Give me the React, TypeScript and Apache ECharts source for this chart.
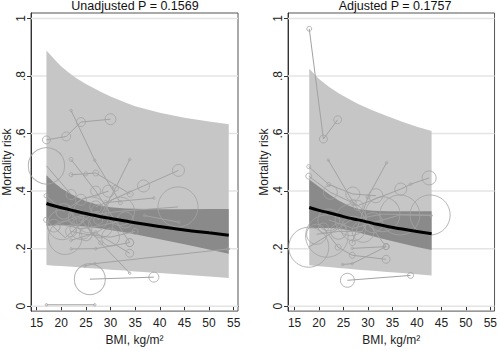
import React, { useEffect, useRef } from "react";
import * as echarts from "echarts";

// ---------- data ----------
const titles = ["Unadjusted P = 0.1569", "Adjusted P = 0.1757"];
const xTicks = [15, 20, 25, 30, 35, 40, 45, 50, 55];
const yTicks = [0, 0.2, 0.4, 0.6, 0.8, 1];
const yTickLabels = ["0", ".2", ".4", ".6", ".8", "1"];
const xName = "BMI, kg/m\u00B2";
const yName = "Mortality risk";

// Unadjusted panel: bands and fitted curve
const leftX = [17, 18.5, 20, 21.5, 23, 25, 28, 30, 33, 35, 40, 45, 50, 54];
const leftPiUpper = [0.889, 0.86, 0.833, 0.812, 0.793, 0.772, 0.745, 0.729, 0.708, 0.695, 0.672, 0.655, 0.642, 0.632];
const leftPiLower = [0.143, 0.141, 0.14, 0.138, 0.136, 0.133, 0.13, 0.127, 0.124, 0.121, 0.115, 0.109, 0.103, 0.098];
const leftCiUpper = [0.455, 0.43, 0.41, 0.394, 0.38, 0.365, 0.35, 0.344, 0.34, 0.339, 0.337, 0.337, 0.338, 0.338];
const leftCiLower = [0.28, 0.281, 0.281, 0.281, 0.279, 0.277, 0.27, 0.265, 0.256, 0.25, 0.233, 0.215, 0.197, 0.182];
const leftFit = [0.357, 0.349, 0.342, 0.336, 0.33, 0.322, 0.311, 0.305, 0.296, 0.29, 0.277, 0.265, 0.255, 0.247];

// Adjusted panel: bands and fitted curve
const rightX = [18, 20, 22, 24, 26, 28, 31, 34, 37, 40, 43];
const rightPiUpper = [0.825, 0.79, 0.763, 0.74, 0.721, 0.703, 0.68, 0.66, 0.641, 0.624, 0.609];
const rightPiLower = [0.142, 0.139, 0.136, 0.133, 0.13, 0.127, 0.123, 0.119, 0.115, 0.111, 0.107];
const rightCiUpper = [0.44, 0.415, 0.39, 0.367, 0.35, 0.338, 0.332, 0.33, 0.33, 0.33, 0.33];
const rightCiLower = [0.271, 0.272, 0.272, 0.27, 0.264, 0.256, 0.243, 0.23, 0.218, 0.206, 0.195];
const rightFit = [0.343, 0.333, 0.325, 0.316, 0.307, 0.3, 0.288, 0.277, 0.268, 0.26, 0.252];

// Study-level points: [BMI, risk, weight]
const leftStudies: number[][][] = [
  [[17, 0.578, 16], [21, 0.59, 20], [24, 0.64, 20], [30, 0.65, 30]],
  [[22, 0.68, 1], [26.8, 0.507, 1], [32, 0.36, 4]],
  [[17, 0.488, 330], [22, 0.388, 25]],
  [[22, 0.51, 4], [27, 0.4, 25], [33.9, 0.221, 16]],
  [[33.9, 0.51, 1], [31, 0.41, 9], [27.5, 0.3, 20]],
  [[22, 0.457, 4], [25, 0.46, 4], [27, 0.463, 9], [34, 0.39, 9]],
  [[27, 0.345, 36], [36.7, 0.418, 36], [43.8, 0.472, 36]],
  [[16.9, 0.384, 4], [20.5, 0.33, 60], [24, 0.37, 30], [29.6, 0.4, 36]],
  [[16.9, 0.3, 6], [20.8, 0.238, 280], [26, 0.317, 324], [32, 0.33, 200], [43.7, 0.345, 400]],
  [[22, 0.199, 1], [27, 0.2, 2], [33.9, 0.221, 16]],
  [[22, 0.229, 2], [27, 0.255, 4], [33.9, 0.184, 16]],
  [[24, 0.3, 4], [28, 0.22, 4], [33.9, 0.115, 1]],
  [[24.8, 0.14, 1], [26.8, 0.148, 1], [53.9, 0.199, 2]],
  [[25.8, 0.094, 240], [38.8, 0.101, 25]],
  [[17, 0.005, 0.3], [26.8, 0.005, 0.3]],
  [[29, 0.36, 4], [38.8, 0.376, 1]],
  [[36.9, 0.315, 1], [43.9, 0.292, 1]],
  [[20.2, 0.283, 225], [24, 0.27, 120], [28, 0.28, 150], [33, 0.3, 64]],
  [[22, 0.26, 30], [25, 0.25, 40], [30, 0.24, 80], [35, 0.26, 9]],
  [[18.5, 0.28, 40], [23, 0.31, 60], [27.5, 0.33, 49]],
];

const rightStudies: number[][][] = [
  [[18, 0.964, 6], [20.9, 0.581, 16], [23.8, 0.648, 16]],
  [[21.9, 0.508, 1], [27, 0.36, 9], [33.7, 0.207, 9]],
  [[33.8, 0.499, 1], [30, 0.38, 4], [26.8, 0.221, 9]],
  [[17.9, 0.485, 4], [22, 0.423, 4], [26.9, 0.39, 49], [31.6, 0.384, 49]],
  [[17.9, 0.452, 9], [22.3, 0.396, 49], [28, 0.35, 25], [36.7, 0.407, 36], [38.7, 0.424, 1], [42.5, 0.446, 49]],
  [[17.9, 0.205, 400], [21.6, 0.244, 450], [26.5, 0.3, 250], [33, 0.32, 300], [42.7, 0.317, 400]],
  [[20.9, 0.272, 25], [23.9, 0.205, 9], [26.8, 0.177, 9], [33.7, 0.163, 16]],
  [[24.8, 0.145, 1], [26.8, 0.148, 1], [33.7, 0.207, 9]],
  [[25.8, 0.09, 49], [38.7, 0.107, 9]],
  [[22, 0.3, 120], [27, 0.27, 150], [31, 0.29, 100], [36.5, 0.317, 400], [42.9, 0.315, 1]],
  [[19.5, 0.25, 100], [24, 0.26, 60], [29, 0.26, 120]],
  [[26.8, 0.201, 1], [33.7, 0.207, 9]],
];

// ---------- styling ----------
const FONT = "'Liberation Sans', Arial, Helvetica, sans-serif";
const LIGHT = "#c6c6c6";
const DARK = "#8a8a8a";
const STUDY = "#a2a2a2";
const GRIDLINE = "#e4e4e4";
const FRAME = "#555555";

const panels = [
  { left: 28, width: 210, xmin: 13.86, xmax: 55.88, xs: leftX, piU: leftPiUpper, piL: leftPiLower, ciU: leftCiUpper, ciL: leftCiLower, fit: leftFit, studies: leftStudies, titleX: 135 },
  { left: 288, width: 211, xmin: 13.66, xmax: 55.86, xs: rightX, piU: rightPiUpper, piL: rightPiLower, ciU: rightCiUpper, ciL: rightCiLower, fit: rightFit, studies: rightStudies, titleX: 395 },
];
const YMIN = -0.017;
const YMAX = 1.019;

function bandSeries(idx: number, xs: number[], upper: number[], lower: number[], color: string, z: number) {
  return {
    type: "custom",
    xAxisIndex: idx,
    yAxisIndex: idx,
    z,
    silent: true,
    data: [[xs[0], lower[0]]],
    renderItem: (_p: any, api: any) => {
      const pts: number[][] = [];
      xs.forEach((x, i) => pts.push(api.coord([x, upper[i]])));
      for (let i = xs.length - 1; i >= 0; i--) pts.push(api.coord([xs[i], lower[i]]));
      return { type: "polygon", shape: { points: pts }, style: { fill: color } };
    },
  };
}

function gridLineSeries(idx: number, xmin: number, xmax: number) {
  return {
    type: "custom",
    xAxisIndex: idx,
    yAxisIndex: idx,
    z: 1,
    silent: true,
    data: yTicks.map((v) => [xmin, v]),
    renderItem: (_p: any, api: any) => {
      const y = api.value(1);
      const a = api.coord([xmin, y]);
      const b = api.coord([xmax, y]);
      return { type: "line", shape: { x1: a[0], y1: a[1], x2: b[0], y2: b[1] }, style: { stroke: GRIDLINE, lineWidth: 1.5 } };
    },
  };
}

export default function App() {
  const ref = useRef<HTMLDivElement>(null);
  useEffect(() => {
    document.body.style.margin = "0";
    if (!ref.current) return;
    const chart = echarts.init(ref.current, null, { renderer: "svg" });
    const grids: any[] = [];
    const xAxes: any[] = [];
    const yAxes: any[] = [];
    const series: any[] = [];
    const graphics: any[] = [];

    panels.forEach((p, idx) => {
      grids.push({ left: p.left, top: 13, width: p.width, height: 308, show: true, borderColor: FRAME, borderWidth: 1, backgroundColor: "transparent" });
      xAxes.push({
        type: "value", gridIndex: idx, min: p.xmin, max: p.xmax,
        name: xName, nameLocation: "middle", nameGap: 19,
        nameTextStyle: { fontFamily: FONT, fontSize: 12, color: "#222" },
        axisLine: { show: true, lineStyle: { color: "#333", width: 1 } },
        axisTick: { show: true, length: 4, customValues: xTicks, lineStyle: { color: "#333" } },
        axisLabel: { customValues: xTicks, margin: 6, fontFamily: FONT, fontSize: 12, color: "#222" },
        splitLine: { show: false },
      });
      yAxes.push({
        type: "value", gridIndex: idx, min: YMIN, max: YMAX,
        name: yName, nameLocation: "middle", nameGap: 18, nameRotate: 90,
        nameTextStyle: { fontFamily: FONT, fontSize: 12, color: "#222" },
        axisLine: { show: true, lineStyle: { color: "#333", width: 1 } },
        axisTick: { show: true, length: 4, customValues: yTicks, lineStyle: { color: "#333" } },
        axisLabel: {
          customValues: yTicks, rotate: 90, margin: 4, fontFamily: FONT, fontSize: 12, color: "#222",
          formatter: (v: number) => {
            const i = yTicks.findIndex((t) => Math.abs(t - v) < 1e-6);
            return i >= 0 ? yTickLabels[i] : "";
          },
        },
        splitLine: { show: false },
      });
      series.push(gridLineSeries(idx, p.xmin, p.xmax));
      series.push(bandSeries(idx, p.xs, p.piU, p.piL, LIGHT, 2));
      series.push(bandSeries(idx, p.xs, p.ciU, p.ciL, DARK, 3));
      p.studies.forEach((s) => {
        series.push({
          type: "line", xAxisIndex: idx, yAxisIndex: idx, z: 4, silent: true,
          data: s.map((d) => [d[0], d[1]]), symbol: "none",
          lineStyle: { color: STUDY, width: 1 },
        });
      });
      series.push({
        type: "scatter", xAxisIndex: idx, yAxisIndex: idx, z: 5, silent: true,
        data: p.studies.flat().map((d) => [d[0], d[1], d[2]]),
        symbol: "circle",
        symbolSize: (v: number[]) => Math.max(2.5, 2 * Math.sqrt(v[2])),
        itemStyle: { color: "rgba(0,0,0,0)", borderColor: STUDY, borderWidth: 1 },
      });
      series.push({
        type: "line", xAxisIndex: idx, yAxisIndex: idx, z: 6, silent: true, smooth: true,
        data: p.xs.map((x, i) => [x, p.fit[i]]), symbol: "none",
        lineStyle: { color: "#000", width: 3 },
      });
      graphics.push({
        type: "text", x: p.titleX, y: 6,
        style: { text: titles[idx], textAlign: "center", textVerticalAlign: "middle", align: "center", verticalAlign: "middle", font: `12.5px ${FONT}`, fill: "#111" },
      });
    });

    chart.setOption({
      animation: false,
      backgroundColor: "#fff",
      grid: grids,
      xAxis: xAxes,
      yAxis: yAxes,
      series,
      graphic: graphics,
    });
    return () => chart.dispose();
  }, []);
  return <div ref={ref} style={{ width: 500, height: 351 }} />;
}
